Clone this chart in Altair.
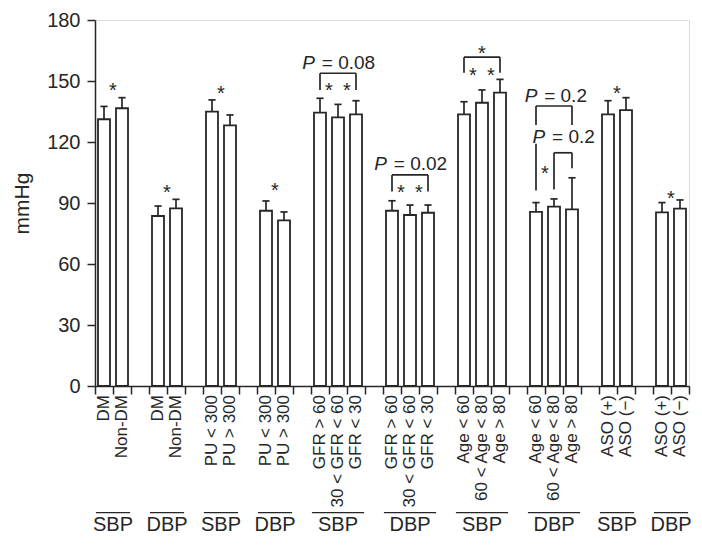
import altair as alt
import pandas as pd

# ---------------- data ----------------
measures = ["SBP", "DBP", "SBP", "DBP", "SBP", "DBP", "SBP", "DBP", "SBP", "DBP"]
group_labels = [
    ["DM", "Non-DM"],
    ["DM", "Non-DM"],
    ["PU < 300", "PU > 300"],
    ["PU < 300", "PU > 300"],
    ["GFR > 60", "30 < GFR < 60", "GFR < 30"],
    ["GFR > 60", "30 < GFR < 60", "GFR < 30"],
    ["Age < 60", "60 < Age < 80", "Age > 80"],
    ["Age < 60", "60 < Age < 80", "Age > 80"],
    ["ASO (+)", "ASO (\u2212)"],
    ["ASO (+)", "ASO (\u2212)"],
]
means = [
    [131.2, 136.6],
    [83.6, 87.4],
    [134.9, 128.2],
    [86.2, 81.5],
    [134.4, 132.1, 133.6],
    [86.2, 84.1, 85.2],
    [133.6, 139.3, 144.3],
    [85.6, 88.2, 86.9],
    [133.6, 135.7],
    [85.4, 87.2],
]
sds = [
    [6.3, 5.2],
    [4.9, 4.4],
    [5.8, 5.1],
    [4.8, 4.1],
    [7.1, 6.4, 6.7],
    [4.9, 4.9, 3.8],
    [6.2, 6.3, 6.5],
    [4.6, 3.8, 15.5],
    [6.7, 6.1],
    [4.8, 4.3],
]
y_ticks = [0, 30, 60, 90, 120, 150, 180]

# significance stars: (x position in slot units, y value)
star_x = [1, 4, 7, 10, 13, 14, 17, 18, 21, 22, 21.5, 25, 29, 32]
star_y = [148, 97.9, 146.6, 98.9, 148, 148, 97.9, 97.9, 155.4, 155.4, 166.2, 107, 146.4, 95.1]

# bracket segments (x1, y1, x2, y2)
seg_x1 = [12.5, 12.5, 14.5, 16.5, 16.5, 18.5, 20.5, 20.5, 22.5, 24.5, 24.5, 24.5, 26.5, 25.5, 25.5, 26.5]
seg_y1 = [153.8, 153.8, 153.8, 103.8, 103.8, 103.8, 161.7, 161.7, 161.7, 137.7, 137.7, 119.2, 137.7, 114.7, 114.7, 114.7]
seg_x2 = [14.5, 12.5, 14.5, 18.5, 16.5, 18.5, 22.5, 20.5, 22.5, 26.5, 24.5, 24.5, 26.5, 26.5, 25.5, 26.5]
seg_y2 = [153.8, 145.6, 145.6, 103.8, 95.6, 95.6, 161.7, 154.1, 154.1, 137.7, 128.3, 96.1, 128.4, 114.7, 96.7, 107.1]

# P-value labels
p_x = [13.5, 17.5, 25.56, 26.0]
p_y = [159.4, 109.7, 143.1, 123.0]
p_val = ["0.08", "0.02", "0.2", "0.2"]

# ---------------- build tables ----------------
INK = "#262626"
FONT = "Liberation Sans"
W, H = 594, 366

rows, grp_rows = [], []
slot = 0
for m, labs, mv, sv in zip(measures, group_labels, means, sds):
    start = slot
    for lab, v, s in zip(labs, mv, sv):
        rows.append(dict(xl=slot + 1 / 6, xr=slot + 5 / 6, xc=slot + 0.5,
                         cl=slot + 0.3, cr=slot + 0.7,
                         mean=v, top=v + s, label=lab, zero=0))
        slot += 1
    grp_rows.append(dict(gs=start + 0.05, ge=slot - 0.05, gc=(start + slot) / 2, m=m))
    slot += 1
n_slots = slot - 1
PXU = W / n_slots  # pixels per slot
bars = pd.DataFrame(rows)
grps = pd.DataFrame(grp_rows)
stars = pd.DataFrame(dict(x=star_x, y=star_y, t="*"))
segs = pd.DataFrame(dict(x1=seg_x1, y1=seg_y1, x2=seg_x2, y2=seg_y2))


def tw(s, fs):
    w = {"P": 0.667, " ": 0.278, "=": 0.584, ".": 0.278}
    return sum(w.get(c, 0.556) for c in s) * fs


PFS = 19
pdf = pd.DataFrame(dict(x=p_x, y=p_y, rest=["= " + v for v in p_val]))
off = [-(tw("P " + r, PFS)) / 2 + tw("P", PFS) for r in pdf["rest"]]
pdf["xp"] = pdf["x"] + [o / PXU for o in off]
pdf["xr"] = pdf["xp"] + (tw(" ", PFS) + 1.5) / PXU

xscale = alt.Scale(domain=[0, n_slots], nice=False, zero=False)
yscale = alt.Scale(domain=[0, 180], nice=False)

xax = alt.Axis(values=list(range(n_slots + 1)), labels=False, tickSize=8, grid=False,
               title=None, domainColor=INK, tickColor=INK, domainWidth=1.5, tickWidth=1.5)
yax = alt.Axis(values=y_ticks, tickSize=8, grid=False, labelFontSize=20, labelPadding=7,
               labelColor=INK, labelFont=FONT, title="mmHg", titleFontSize=21,
               titleFontWeight="normal", titleFont=FONT, titleColor=INK, titlePadding=14,
               domainColor=INK, tickColor=INK, domainWidth=1.5, tickWidth=1.5)

X = lambda f: alt.X(f, type="quantitative", scale=xscale, axis=xax)
Y = lambda f: alt.Y(f, type="quantitative", scale=yscale, axis=yax)

bar = alt.Chart(bars).mark_bar(fill="white", stroke=INK, strokeWidth=1.8).encode(
    x=X("xl"), x2="xr", y=Y("mean"), y2="zero")
err = alt.Chart(bars).mark_rule(color=INK, strokeWidth=1.7).encode(
    x=X("xc"), y=Y("mean"), y2="top")
cap = alt.Chart(bars).mark_rule(color=INK, strokeWidth=1.7).encode(
    x=X("cl"), x2="cr", y=Y("top"))
labels = alt.Chart(bars).mark_text(angle=270, align="right", baseline="middle", dx=-9,
                                   fontSize=17, font=FONT, color=INK).encode(
    x=X("xc"), y=Y("zero"), text="label")
over = alt.Chart(grps).mark_rule(color=INK, strokeWidth=1.3).encode(
    x=X("gs"), x2="ge", y=alt.Y(datum=-62.3, scale=yscale, axis=yax))
gtext = alt.Chart(grps).mark_text(fontSize=20, font=FONT, color=INK, baseline="middle").encode(
    x=X("gc"), y=alt.Y(datum=-68.3, scale=yscale, axis=yax), text="m")
star = alt.Chart(stars).mark_text(fontSize=20, font=FONT, color=INK, baseline="middle", dy=6).encode(
    x=X("x"), y=Y("y"), text="t")
seg = alt.Chart(segs).mark_rule(color=INK, strokeWidth=1.7).encode(
    x=X("x1"), y=Y("y1"), x2="x2", y2="y2")
pP = alt.Chart(pdf).mark_text(fontSize=PFS, font=FONT, color=INK, fontStyle="italic",
                              align="right", baseline="middle", dy=1).encode(
    x=X("xp"), y=Y("y"), text=alt.value("P"))
pR = alt.Chart(pdf).mark_text(fontSize=PFS, font=FONT, color=INK,
                              align="left", baseline="middle", dy=1).encode(
    x=X("xr"), y=Y("y"), text="rest")

chart = alt.layer(bar, err, cap, labels, over, gtext, star, seg, pP, pR).properties(
    width=W, height=H,
    autosize=alt.AutoSizeParams(type="none"),
    padding={"left": 87, "top": 12, "right": 2, "bottom": 151},
).configure_view(stroke=None).configure(background="white")

chart.save("out.html", embed_options={"renderer": "svg", "actions": False})
